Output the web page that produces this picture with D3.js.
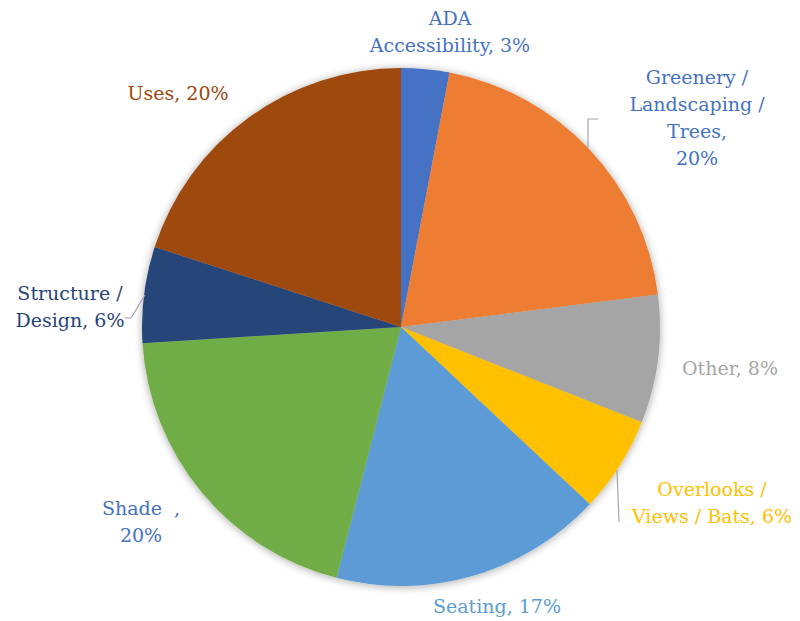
<!DOCTYPE html>
<html>
<head>
<meta charset="utf-8">
<script src="https://cdn.jsdelivr.net/npm/d3@7"></script>
<style>
  body { margin: 0; background: #fff; }
  svg { display: block; }
  .lbl { font-family: "DejaVu Serif", serif; font-size: 19px; white-space: pre; }
</style>
</head>
<body>
<svg id="chart" width="800" height="621"></svg>
<script>
// data
const categories = ["ADA Accessibility", "Greenery / Landscaping / Trees", "Other",
  "Overlooks / Views / Bats", "Seating", "Shade ", "Structure / Design", "Uses"]
const values = [3, 20, 8, 6, 17, 20, 6, 20]
const sliceColors = ["#4472C4", "#ED7D31", "#A5A5A5", "#FFC000", "#5B9BD5", "#70AD47", "#264478", "#9E480E"]
const labelColors = ["#4472C4", "#4472C4", "#A5A5A5", "#FFC000", "#5B9BD5", "#4472C4", "#264478", "#9E480E"]
const labelLines = [
  ["ADA", "Accessibility, 3%"],
  ["Greenery /", "Landscaping /", "Trees,", "20%"],
  ["Other, 8%"],
  ["Overlooks /", "Views / Bats, 6%"],
  ["Seating, 17%"],
  ["Shade  ,", "20%"],
  ["Structure /", "Design, 6%"],
  ["Uses, 20%"]
]

// layout (label centre x, first line centre y)
const labelPos = [[450, 18], [697, 77], [730, 368], [712, 489], [497, 606], [141, 508], [70, 293], [178, 93]]
const lineH = 27

const svg = d3.select("#chart")
const cx = 401, cy = 327, r = 259

const defs = svg.append("defs")
const f = defs.append("filter").attr("id", "shadow")
  .attr("x", "-10%").attr("y", "-10%").attr("width", "120%").attr("height", "120%")
f.append("feGaussianBlur").attr("in", "SourceAlpha").attr("stdDeviation", 4)
f.append("feOffset").attr("dx", 0).attr("dy", 1).attr("result", "b")
f.append("feComponentTransfer").append("feFuncA").attr("type", "linear").attr("slope", 0.35)
const m = f.append("feMerge")
m.append("feMergeNode")
m.append("feMergeNode").attr("in", "SourceGraphic")

const pie = d3.pie().sort(null).value((d) => d)
const arcs = pie(values)
const arc = d3.arc().innerRadius(0).outerRadius(r)

const g = svg.append("g").attr("transform", `translate(${cx},${cy})`)
g.append("g").attr("filter", "url(#shadow)")
  .selectAll("path")
  .data(arcs)
  .join("path")
  .attr("d", arc)
  .attr("fill", (d, i) => sliceColors[i])

// leader lines (from pie edge out to the label)
const edgeY = (x) => cy - Math.sqrt(r * r - (x - cx) * (x - cx))
const edgeX = (y, side) => cx + side * Math.sqrt(r * r - (y - cy) * (y - cy))
const leaders = [
  [[588, edgeY(588)], [588, 119], [598, 119]],
  [[617, 470], [619, 522]],
  [[edgeX(295, -1) + 1, 295], [131, 318], [125, 318]]
]
leaders.forEach((pts) => {
  svg.append("path")
    .attr("d", d3.line()(pts))
    .attr("fill", "none")
    .attr("stroke", "#A6A6A6")
    .attr("stroke-width", 1.2)
})

// labels
labelLines.forEach((lines, i) => {
  const t = svg.append("text")
    .attr("class", "lbl")
    .attr("fill", labelColors[i])
    .attr("text-anchor", "middle")
  lines.forEach((s, j) => {
    t.append("tspan")
      .attr("x", labelPos[i][0])
      .attr("y", labelPos[i][1] + j * lineH)
      .attr("dy", "0.35em")
      .text(s)
  })
})
</script>
</body>
</html>
